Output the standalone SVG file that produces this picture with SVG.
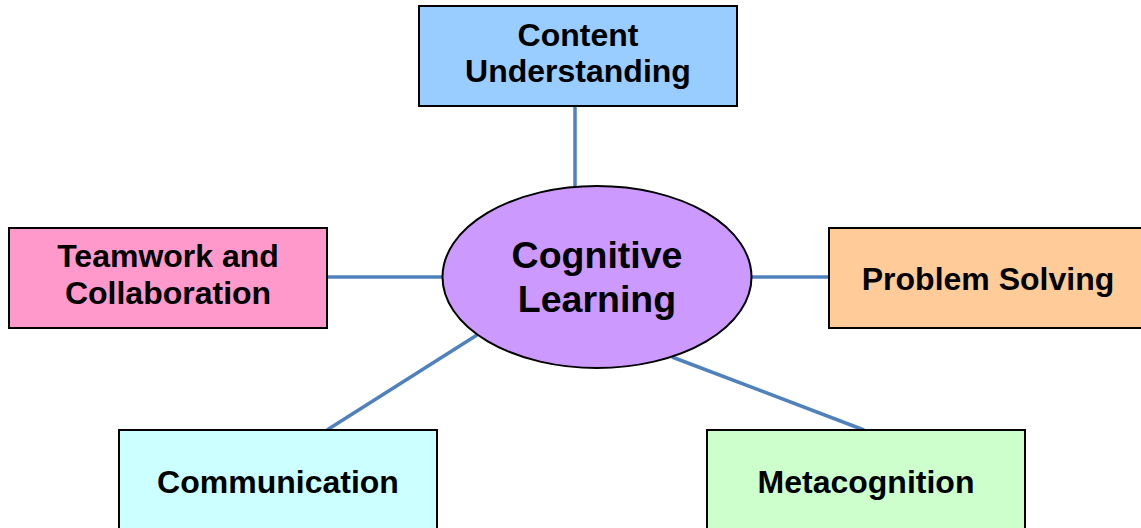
<svg xmlns="http://www.w3.org/2000/svg" width="1141" height="528" viewBox="0 0 1141 528">
<style>
.box{stroke:#000;stroke-width:2}
.lbl{font-family:"Liberation Sans",Arial,sans-serif;font-weight:bold;font-size:32px;fill:#000;text-anchor:middle}
.big{font-size:37.5px}
.conn line{stroke:#4f81bd;stroke-width:3.5}
</style>
<rect width="1141" height="528" fill="#fff"/>
<g class="conn" id="connectors">
<line x1="575" y1="106" x2="575" y2="186"/>
<line x1="328" y1="277" x2="443" y2="277"/>
<line x1="751" y1="277" x2="829" y2="277"/>
<line x1="477" y1="335" x2="327" y2="430"/>
<line x1="672" y1="357" x2="864" y2="430"/>
</g>
<g id="content">
<rect class="box" x="419" y="6" width="318" height="100" fill="#99ccff"/>
<text class="lbl" x="578" y="46">Content</text>
<text class="lbl" x="578" y="82">Understanding</text>
</g>
<g id="teamwork">
<rect class="box" x="9" y="228" width="318" height="100" fill="#ff99cc"/>
<text class="lbl" x="168" y="267">Teamwork and</text>
<text class="lbl" x="168" y="304">Collaboration</text>
</g>
<g id="problem">
<rect class="box" x="829" y="228" width="318" height="100" fill="#ffcc99"/>
<text class="lbl" x="988" y="290">Problem Solving</text>
</g>
<g id="communication">
<rect class="box" x="119" y="430" width="318" height="100" fill="#ccffff"/>
<text class="lbl" x="278" y="493">Communication</text>
</g>
<g id="metacognition">
<rect class="box" x="707" y="430" width="318" height="100" fill="#ccffcc"/>
<text class="lbl" x="866" y="493">Metacognition</text>
</g>
<g id="cognitive">
<ellipse class="box" cx="597" cy="277" rx="154.5" ry="91" fill="#cc99ff"/>
<text class="lbl big" x="597" y="268">Cognitive</text>
<text class="lbl big" x="597" y="312">Learning</text>
</g>
</svg>
